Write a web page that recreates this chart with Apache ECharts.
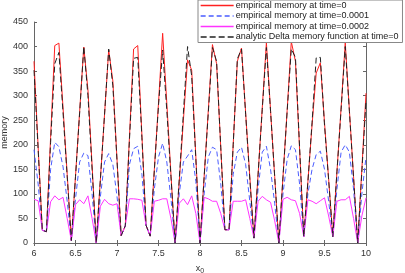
<!DOCTYPE html>
<html>
<head>
<meta charset="utf-8">
<script src="https://cdn.jsdelivr.net/npm/echarts@6/dist/echarts.min.js"></script>
<style>
html,body{margin:0;padding:0;background:#fff;}
#chart{width:405px;height:273px;}
</style>
</head>
<body>
<div id="chart"></div>
<script>
var xValues = [6.00,6.05,6.10,6.15,6.20,6.25,6.30,6.35,6.40,6.45,6.50,6.55,6.60,6.65,6.70,6.75,6.80,6.85,6.90,6.95,
  7.00,7.05,7.10,7.15,7.20,7.25,7.30,7.35,7.40,7.45,7.50,7.55,7.60,7.65,7.70,7.75,7.80,7.85,7.90,7.95,
  8.00,8.05,8.10,8.15,8.20,8.25,8.30,8.35,8.40,8.45,8.50,8.55,8.60,8.65,8.70,8.75,8.80,8.85,8.90,8.95,
  9.00,9.05,9.10,9.15,9.20,9.25,9.30,9.35,9.40,9.45,9.50,9.55,9.60,9.65,9.70,9.75,9.80,9.85,9.90,9.95,10.00];

var memT0 = [370,195,26,23,215,402,407,275,140,5,136,268,399,312,158,0,130,262,393,330,
  170,15,35,215,395,402,220,36,14,150,285,427,285,140,0,125,250,373,352,175,
  0,135,270,404,365,195,27,27,200,370,397,265,135,10,140,275,408,270,135,0,
  135,270,410,370,190,13,125,240,346,367,245,130,13,145,275,408,270,135,0,150,305];

var memT1 = [190,120,26,23,150,205,196,155,85,5,90,165,183,178,100,0,95,165,182,160,
  95,15,35,160,192,197,140,36,14,110,175,203,165,90,0,100,165,177,190,125,
  0,100,175,195,190,120,27,27,140,185,195,160,85,10,110,185,197,150,80,0,
  100,170,198,190,120,13,100,150,180,187,150,85,13,110,185,200,185,110,0,100,175];

var memT2 = [89,86,26,23,84,96,88,93,50,5,78,88,80,96,50,0,75,89,80,77,
  80,15,35,90,90,89,87,36,14,85,87,90,90,50,0,81,90,78,96,60,
  0,93,90,85,85,60,27,27,85,85,85,88,50,10,85,95,88,83,45,0,
  89,93,88,86,60,13,88,85,80,86,92,55,13,85,88,88,95,50,0,55,92];

var memAnalytic = [352,190,26,23,205,365,388,265,135,5,135,265,400,300,150,0,130,262,395,320,
  168,15,35,210,376,378,215,36,14,148,280,393,270,135,0,130,265,400,340,170,
  0,135,265,398,370,195,27,27,200,375,395,262,130,10,140,272,398,268,135,0,
  135,268,395,378,195,13,125,245,377,378,240,128,13,145,272,400,268,133,0,145,290];

var xTicks = [6,6.5,7,7.5,8,8.5,9,9.5,10];
var yTicks = [0,50,100,150,200,250,300,350,400,450];

var seriesNames = ['empirical memory at time=0','empirical memory at time=0.0001','empirical memory at time=0.0002','analytic Delta memory function at time=0'];
var seriesColors = ['#ff2020','#4a5cff','#ff33ff','#222222'];
var seriesDash = ['solid',[5,3],'solid',[6,3]];

function pairs(ys){ return xValues.map(function(x,i){ return [x, ys[i]]; }); }

var chart = echarts.init(document.getElementById('chart'), null, {renderer:'canvas'});
var axisCol = '#666';
var txtCol = '#333';
var font = 'Liberation Sans, Arial, Helvetica, sans-serif';
var allData = [memT0, memT1, memT2, memAnalytic];

chart.setOption({
  animation:false,
  backgroundColor:'#fff',
  textStyle:{fontFamily:font},
  grid:{left:34, right:39, top:22, bottom:30, containLabel:false, outerBoundsMode:'none'},
  legend:{
    data:seriesNames.map(function(n,i){
      return {name:n};
    }),
    orient:'vertical', left:198, top:0,
    itemStyle:{opacity:0},
    lineStyle:{width:1.3},
    backgroundColor:'#fff', borderColor:'#888', borderWidth:1, borderRadius:0,
    padding:[1,4,1,2], itemWidth:33, itemHeight:8, itemGap:1.5,
    textStyle:{fontSize:9, color:'#222', fontFamily:font, padding:[0,0,0,-3]},
    z:10
  },
  xAxis:[{
    type:'value', min:xTicks[0], max:xTicks[xTicks.length-1], interval:0.5, position:'bottom',
    axisLine:{show:true, lineStyle:{color:axisCol, width:1}},
    axisTick:{show:true, inside:true, length:3, lineStyle:{color:axisCol}},
    axisLabel:{fontSize:9, color:txtCol, margin:6, fontFamily:font},
    splitLine:{show:false},
    name:'{a|x}{b|0}', nameLocation:'middle', nameGap:19, nameMoveOverlap:false,
    nameTextStyle:{rich:{a:{fontSize:9, color:txtCol, fontFamily:font}, b:{fontSize:7, color:txtCol, fontFamily:font, padding:[6,0,0,0]}}}
  },{
    type:'value', min:6, max:10, interval:0.5, position:'top',
    axisLine:{show:true, lineStyle:{color:axisCol, width:1}},
    axisTick:{show:true, inside:true, length:3, lineStyle:{color:axisCol}},
    axisLabel:{show:false}, splitLine:{show:false}
  }],
  yAxis:[{
    type:'value', min:yTicks[0], max:yTicks[yTicks.length-1], interval:50, position:'left',
    axisLine:{show:true, lineStyle:{color:axisCol, width:1}},
    axisTick:{show:true, inside:true, length:3, lineStyle:{color:axisCol}},
    axisLabel:{fontSize:9, color:txtCol, margin:6, fontFamily:font},
    splitLine:{show:false},
    name:'memory', nameLocation:'middle', nameRotate:90, nameGap:25, nameMoveOverlap:false,
    nameTextStyle:{fontSize:9, color:txtCol, fontFamily:font}
  },{
    type:'value', min:0, max:450, interval:50, position:'right',
    axisLine:{show:true, lineStyle:{color:axisCol, width:1}},
    axisTick:{show:true, inside:true, length:3, lineStyle:{color:axisCol}},
    axisLabel:{show:false}, splitLine:{show:false}
  }],
  series:seriesNames.map(function(n,i){
    return {name:n, type:'line', data:pairs(allData[i]), symbol:'none', xAxisIndex:0, yAxisIndex:0,
      color:seriesColors[i],
      lineStyle:{color:seriesColors[i], width:1, type:seriesDash[i]}, itemStyle:{color:seriesColors[i]}, z:2+i};
  })
});
</script>
</body>
</html>
